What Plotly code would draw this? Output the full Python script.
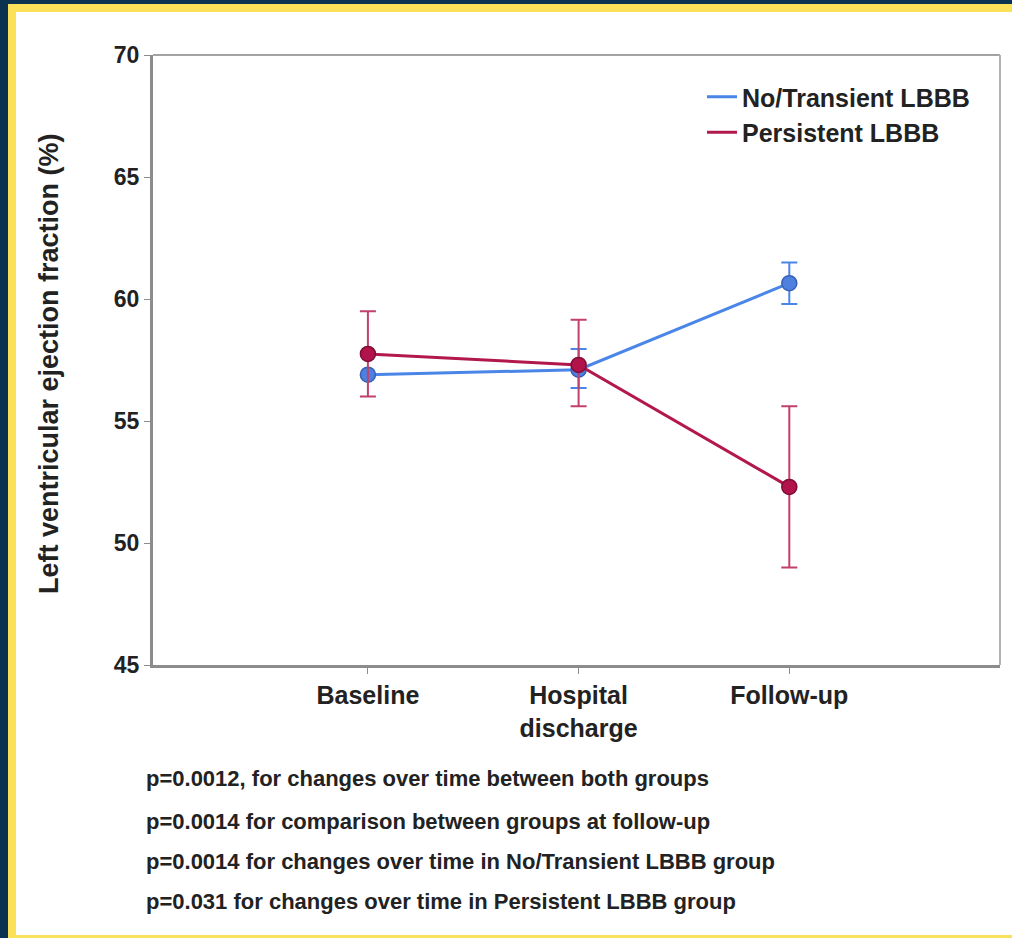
import plotly.graph_objects as go

# ---- data ----
categories = ["Baseline", "Hospital<br>discharge", "Follow-up"]
no_transient_mean = [56.9, 57.1, 60.65]
no_transient_err_plus = [0.0, 0.85, 0.85]
no_transient_err_minus = [0.0, 0.75, 0.85]
persistent_mean = [57.75, 57.3, 52.3]
persistent_err_plus = [1.75, 1.85, 3.3]
persistent_err_minus = [1.75, 1.7, 3.3]
y_ticks = [45, 50, 55, 60, 65, 70]
notes = [
    "p=0.0012, for changes over time between both groups",
    "p=0.0014 for comparison between groups at follow-up",
    "p=0.0014 for changes over time in No/Transient LBBB group",
    "p=0.031 for changes over time in Persistent LBBB group",
]

W, H = 1012, 938
ML, MR, MT, MB = 153, 12, 55, 273
PW, PH = W - ML - MR, H - MT - MB


def px(x):
    return (x - ML) / PW


def py(y):
    return 1 - (y - MT) / PH


FONT = "Liberation Sans, Arial, sans-serif"
TXT = "#222222"
BLUE = "#4a86e8"
RED = "#b3184c"

fig = go.Figure()
# line traces (shown in legend, line-only symbol)
fig.add_trace(go.Scatter(
    x=categories, y=no_transient_mean, name="No/Transient LBBB",
    mode="lines", line=dict(color=BLUE, width=3), legendgroup="a",
))
fig.add_trace(go.Scatter(
    x=categories, y=no_transient_mean, name="No/Transient LBBB",
    mode="markers", showlegend=False, legendgroup="a",
    marker=dict(size=15, color="#4f80e0", line=dict(color="#3560b5", width=1.5)),
    error_y=dict(type="data", array=no_transient_err_plus, arrayminus=no_transient_err_minus,
                 color=BLUE, thickness=2, width=8),
))
fig.add_trace(go.Scatter(
    x=categories, y=persistent_mean, name="Persistent LBBB",
    mode="lines", line=dict(color=RED, width=3), legendgroup="b",
))
fig.add_trace(go.Scatter(
    x=categories, y=persistent_mean, name="Persistent LBBB",
    mode="markers", showlegend=False, legendgroup="b",
    marker=dict(size=15, color="#b3134b", line=dict(color="#7e0d36", width=1.5)),
    error_y=dict(type="data", array=persistent_err_plus, arrayminus=persistent_err_minus,
                 color="#c2416a", thickness=2, width=8),
))

shapes = [
    # plot frame top / right (lighter)
    dict(type="line", xref="paper", yref="paper", x0=0, x1=1, y0=1, y1=1,
         line=dict(color="#a3a3a3", width=2), layer="below"),
    dict(type="line", xref="paper", yref="paper", x0=1, x1=1, y0=0, y1=1,
         line=dict(color="#b3b3b3", width=2), layer="below"),
    # page borders
    dict(type="rect", xref="paper", yref="paper", x0=px(0), x1=px(8), y0=py(H), y1=py(0),
         fillcolor="#0c3252", line=dict(width=0)),
    dict(type="rect", xref="paper", yref="paper", x0=px(0), x1=px(W), y0=py(4), y1=py(0),
         fillcolor="#0c3252", line=dict(width=0)),
    dict(type="rect", xref="paper", yref="paper", x0=px(8), x1=px(16), y0=py(H), y1=py(4),
         fillcolor="#fbe05a", line=dict(width=0)),
    dict(type="rect", xref="paper", yref="paper", x0=px(8), x1=px(W), y0=py(12), y1=py(4),
         fillcolor="#fbe05a", line=dict(width=0)),
    dict(type="rect", xref="paper", yref="paper", x0=px(8), x1=px(W), y0=py(H), y1=py(935),
         fillcolor="#fbe05a", line=dict(width=0)),
]

annotations = [
    dict(text="Left ventricular ejection fraction (%)", textangle=-90,
         xref="paper", yref="paper", x=px(49), y=py(364), xanchor="center", yanchor="middle",
         showarrow=False, font=dict(family=FONT, size=27, color=TXT, weight="bold")),
]
note_y = [778, 821, 861, 901]
for t, yy in zip(notes, note_y):
    annotations.append(dict(
        text=t, xref="paper", yref="paper", x=px(144), y=py(yy),
        xanchor="left", yanchor="middle", showarrow=False,
        font=dict(family=FONT, size=22, color=TXT, weight="bold")))

fig.update_layout(
    width=W, height=H,
    margin=dict(l=ML, r=MR, t=MT, b=MB),
    paper_bgcolor="white", plot_bgcolor="white",
    showlegend=True,
    legend=dict(x=px(702), y=py(74), xanchor="left", yanchor="top",
                bgcolor="rgba(0,0,0,0)",
                font=dict(family=FONT, size=25, color=TXT, weight="bold"),
                tracegroupgap=0),
    xaxis=dict(
        type="category", range=[-1.02, 3.0],
        showline=True, linecolor="#8c8c8c", linewidth=3,
        ticks="outside", ticklen=6, tickcolor="#8c8c8c", tickwidth=1,
        showgrid=False, zeroline=False,
        tickfont=dict(family=FONT, size=25, color=TXT, weight="bold"),
    ),
    yaxis=dict(
        range=[45, 70], tickvals=y_ticks,
        showline=True, linecolor="#8c8c8c", linewidth=3,
        ticks="outside", ticklen=6, tickcolor="#8c8c8c", tickwidth=1,
        showgrid=False, zeroline=False,
        tickfont=dict(family=FONT, size=23, color=TXT, weight="bold"),
    ),
    shapes=shapes,
    annotations=annotations,
)

fig.write_html("out.html")
